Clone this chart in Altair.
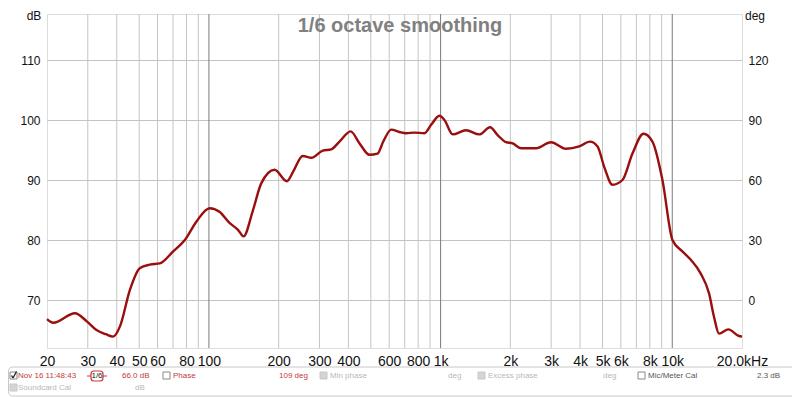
import altair as alt
import pandas as pd

# ---- data ----
freq_hz = [20, 21.3, 26.4, 29.8, 32.7, 35.9, 38.6, 41.3, 45.6, 50.3, 55.6, 61.4, 70.1, 78.7, 88.4,
           100.8, 111, 123, 133.5, 141, 155, 168, 192, 217, 231, 254, 277, 310, 337, 366, 409,
           447, 493, 534, 567, 612, 665, 710, 771, 852, 910, 989, 1039, 1128, 1288, 1470, 1635, 1763,
           1916, 2047, 2224, 2582, 2995, 3476, 3967, 4412, 4758, 5084, 5522, 6096, 6733, 7510,
           8212, 9070, 10018, 11060, 12020, 13274, 14416, 15140, 15918, 17460, 19410, 20000]
spl_db = [66.8, 66.2, 67.8, 66.4, 65.0, 64.3, 63.9, 65.6, 71.7, 75.3, 75.9, 76.1, 78.1, 80.0, 83.1,
          85.3, 84.7, 82.8, 81.7, 80.6, 85.0, 89.4, 91.7, 89.8, 91.4, 94.0, 93.7, 94.9, 95.1, 96.4, 98.1,
          96.1, 94.2, 94.4, 96.5, 98.4, 98.0, 97.8, 97.9, 97.8, 99.2, 100.7, 100.0, 97.6, 98.3, 97.6, 98.8, 97.5,
          96.3, 96.1, 95.3, 95.3, 96.3, 95.2, 95.6, 96.4, 95.6, 92.2, 89.2, 90.0, 94.4, 97.7,
          96.4, 90.0, 80.0, 78.1, 76.7, 74.4, 71.1, 67.2, 64.4, 65.1, 64.0, 63.9]

minor_grid = [30, 40, 50, 60, 70, 80, 90, 200, 300, 400, 500, 600, 700, 800, 900,
              2000, 3000, 4000, 5000, 6000, 7000, 8000, 9000]
major_grid = [100, 1000, 10000]
label_freqs = [20, 30, 40, 50, 60, 80, 100, 200, 300, 400, 600, 800, 1000, 2000, 3000, 4000,
               5000, 6000, 8000, 10000, 20000]
label_texts = ["20", "30", "40", "50", "60", "80", "100", "200", "300", "400", "600", "800", "1k",
               "2k", "3k", "4k", "5k", "6k", "8k", "10k", "20.0kHz"]
db_ticks = [70, 80, 90, 100, 110]
deg_ticks = ["0", "30", "60", "90", "120"]

title_text = "1/6 octave smoothing"

curve = pd.DataFrame({"freq": freq_hz, "db": spl_db})
grid_df = pd.DataFrame({"freq": minor_grid + major_grid,
                        "kind": ["minor"] * len(minor_grid) + ["major"] * len(major_grid)})
label_df = pd.DataFrame({"freq": label_freqs})

x_label_map = "{" + ",".join('"%s":"%s"' % (f, t) for f, t in zip(label_freqs, label_texts)) + "}"
deg_map = "{" + ",".join('"%s":"%s"' % (d, t) for d, t in zip(db_ticks, deg_ticks)) + "}"

W, H = 695, 334
FONT = "Liberation Sans"
xscale = alt.Scale(type="log", domain=[20, 20000], nice=False)
yscale = alt.Scale(domain=[62, 117.67], nice=False, zero=False)

grid = alt.Chart(grid_df).mark_rule(strokeWidth=1).encode(
    x=alt.X("freq:Q", scale=xscale, axis=None),
    color=alt.Color("kind:N", scale=alt.Scale(domain=["minor", "major"], range=["#c4c4c4", "#7a7a7a"]),
                    legend=None),
)

xaxis_layer = alt.Chart(label_df).mark_point(opacity=0).encode(
    x=alt.X("freq:Q", scale=xscale,
            axis=alt.Axis(values=label_freqs, labelExpr=x_label_map + "[datum.value]", grid=False,
                          ticks=False, domain=False, labelFontSize=14, labelPadding=6,
                          labelOverlap=False, labelFlush=False, labelBound=False, title=None,
                          labelColor="#111", labelFont=FONT)),
)

line = alt.Chart(curve).mark_line(color="#9a0e0e", strokeWidth=2.4, interpolate="monotone").encode(
    x=alt.X("freq:Q", scale=xscale, axis=None),
    y=alt.Y("db:Q", scale=yscale,
            axis=alt.Axis(values=db_ticks, orient="left", grid=True, gridColor="#c4c4c4", ticks=False,
                          domain=False, labelPadding=7, labelFontSize=12, title=None, labelColor="#111",
                          labelFont=FONT)),
)

right_axis = alt.Chart(curve).mark_point(opacity=0).encode(
    x=alt.X("freq:Q", scale=xscale, axis=None),
    y=alt.Y("db:Q", scale=yscale,
            axis=alt.Axis(values=db_ticks, orient="right", grid=False, ticks=False, domain=False,
                          labelPadding=6, labelFontSize=12, title=None, labelColor="#111",
                          labelExpr=deg_map + "[datum.value]", labelFont=FONT)),
)

one = alt.Data(values=[{"a": 1}])


def txt(s, px, py, size=8, color="#333", align="left", weight="normal", baseline="middle"):
    return alt.Chart(one).mark_text(text=s, fontSize=size, color=color, align=align,
                                    fontWeight=weight, baseline=baseline, font=FONT).encode(
        x=alt.value(px), y=alt.value(py))


def box(x1, y1, x2, y2, fill, stroke, sw=1, r=0):
    return alt.Chart(one).mark_rect(fill=fill, stroke=stroke, strokeWidth=sw, cornerRadius=r).encode(
        x=alt.value(x1), x2=alt.value(x2), y=alt.value(y1), y2=alt.value(y2))


def seg(x1, y1, x2, y2, color, sw=1):
    return alt.Chart(one).mark_rule(color=color, strokeWidth=sw).encode(
        x=alt.value(x1), x2=alt.value(x2), y=alt.value(y1), y2=alt.value(y2))


RED = "#c43a3a"
GRAY = "#b8b8b8"
DARK = "#555555"
r1, r2 = 362, 374
cx = -37  # first checkbox left edge

extras = [
    txt(title_text, 353, 18, size=20, color="#808080", align="center", weight="bold", baseline="alphabetic"),
    txt("dB", -13, 6, size=12, color="#111", align="center", baseline="alphabetic"),
    txt("deg", 708, 6, size=12, color="#111", align="center", baseline="alphabetic"),
    box(-38.5, 353, 750, 382, "#ffffff", "#c8c8c8", 1, 4),
    box(cx, r1 - 4, cx + 7, r1 + 3, "#ffffff", "#888888"),
    seg(cx + 1.5, r1 - 0.5, cx + 3, r1 + 2, "#222", 1.3),
    seg(cx + 3, r1 + 2, cx + 6.5, r1 - 4.5, "#222", 1.3),
    txt("Nov 16 11:48:43", -29, r1, color=RED),
    seg(40, r1, 44, r1, RED), seg(56, r1, 60, r1, RED),
    box(44, r1 - 5, 56, r1 + 5, "#ffffff", RED, 1.2, 3),
    txt("1/6", 50, r1, size=8, color="#222", align="center"),
    txt("66.0 dB", 75, r1, color=RED),
    box(116, r1 - 4, 123, r1 + 3, "#ffffff", "#888888"),
    txt("Phase", 126, r1, color=RED),
    txt("109 deg", 232, r1, color=RED),
    box(273, r1 - 4, 280, r1 + 3, "#d4d4d4", "#c8c8c8"),
    txt("Min phase", 283, r1, color=GRAY),
    txt("deg", 401, r1, color=GRAY),
    box(431, r1 - 4, 438, r1 + 3, "#d4d4d4", "#c8c8c8"),
    txt("Excess phase", 441, r1, color=GRAY),
    txt("deg", 556, r1, color=GRAY),
    box(591, r1 - 4, 598, r1 + 3, "#ffffff", "#888888"),
    txt("Mic/Meter Cal", 601, r1, color=DARK),
    txt("2.3 dB", 710, r1, color=DARK),
    box(cx, r2 - 4, cx + 7, r2 + 3, "#d4d4d4", "#c8c8c8"),
    txt("Soundcard Cal", -29, r2, color=GRAY),
    txt("dB", 88, r2, color=GRAY),
]

chart = alt.layer(grid, xaxis_layer, line, right_axis, *extras).resolve_axis(
    y="independent", x="independent").resolve_scale(color="independent").properties(
    width=W, height=H,
    autosize=alt.AutoSizeParams(type="none"),
    padding={"left": 39, "top": 6, "right": 50, "bottom": 49},
).configure_view(stroke="#b0b0b0", strokeWidth=3).configure(background="white")

chart.save("out.html", embed_options={"renderer": "svg", "actions": False})
